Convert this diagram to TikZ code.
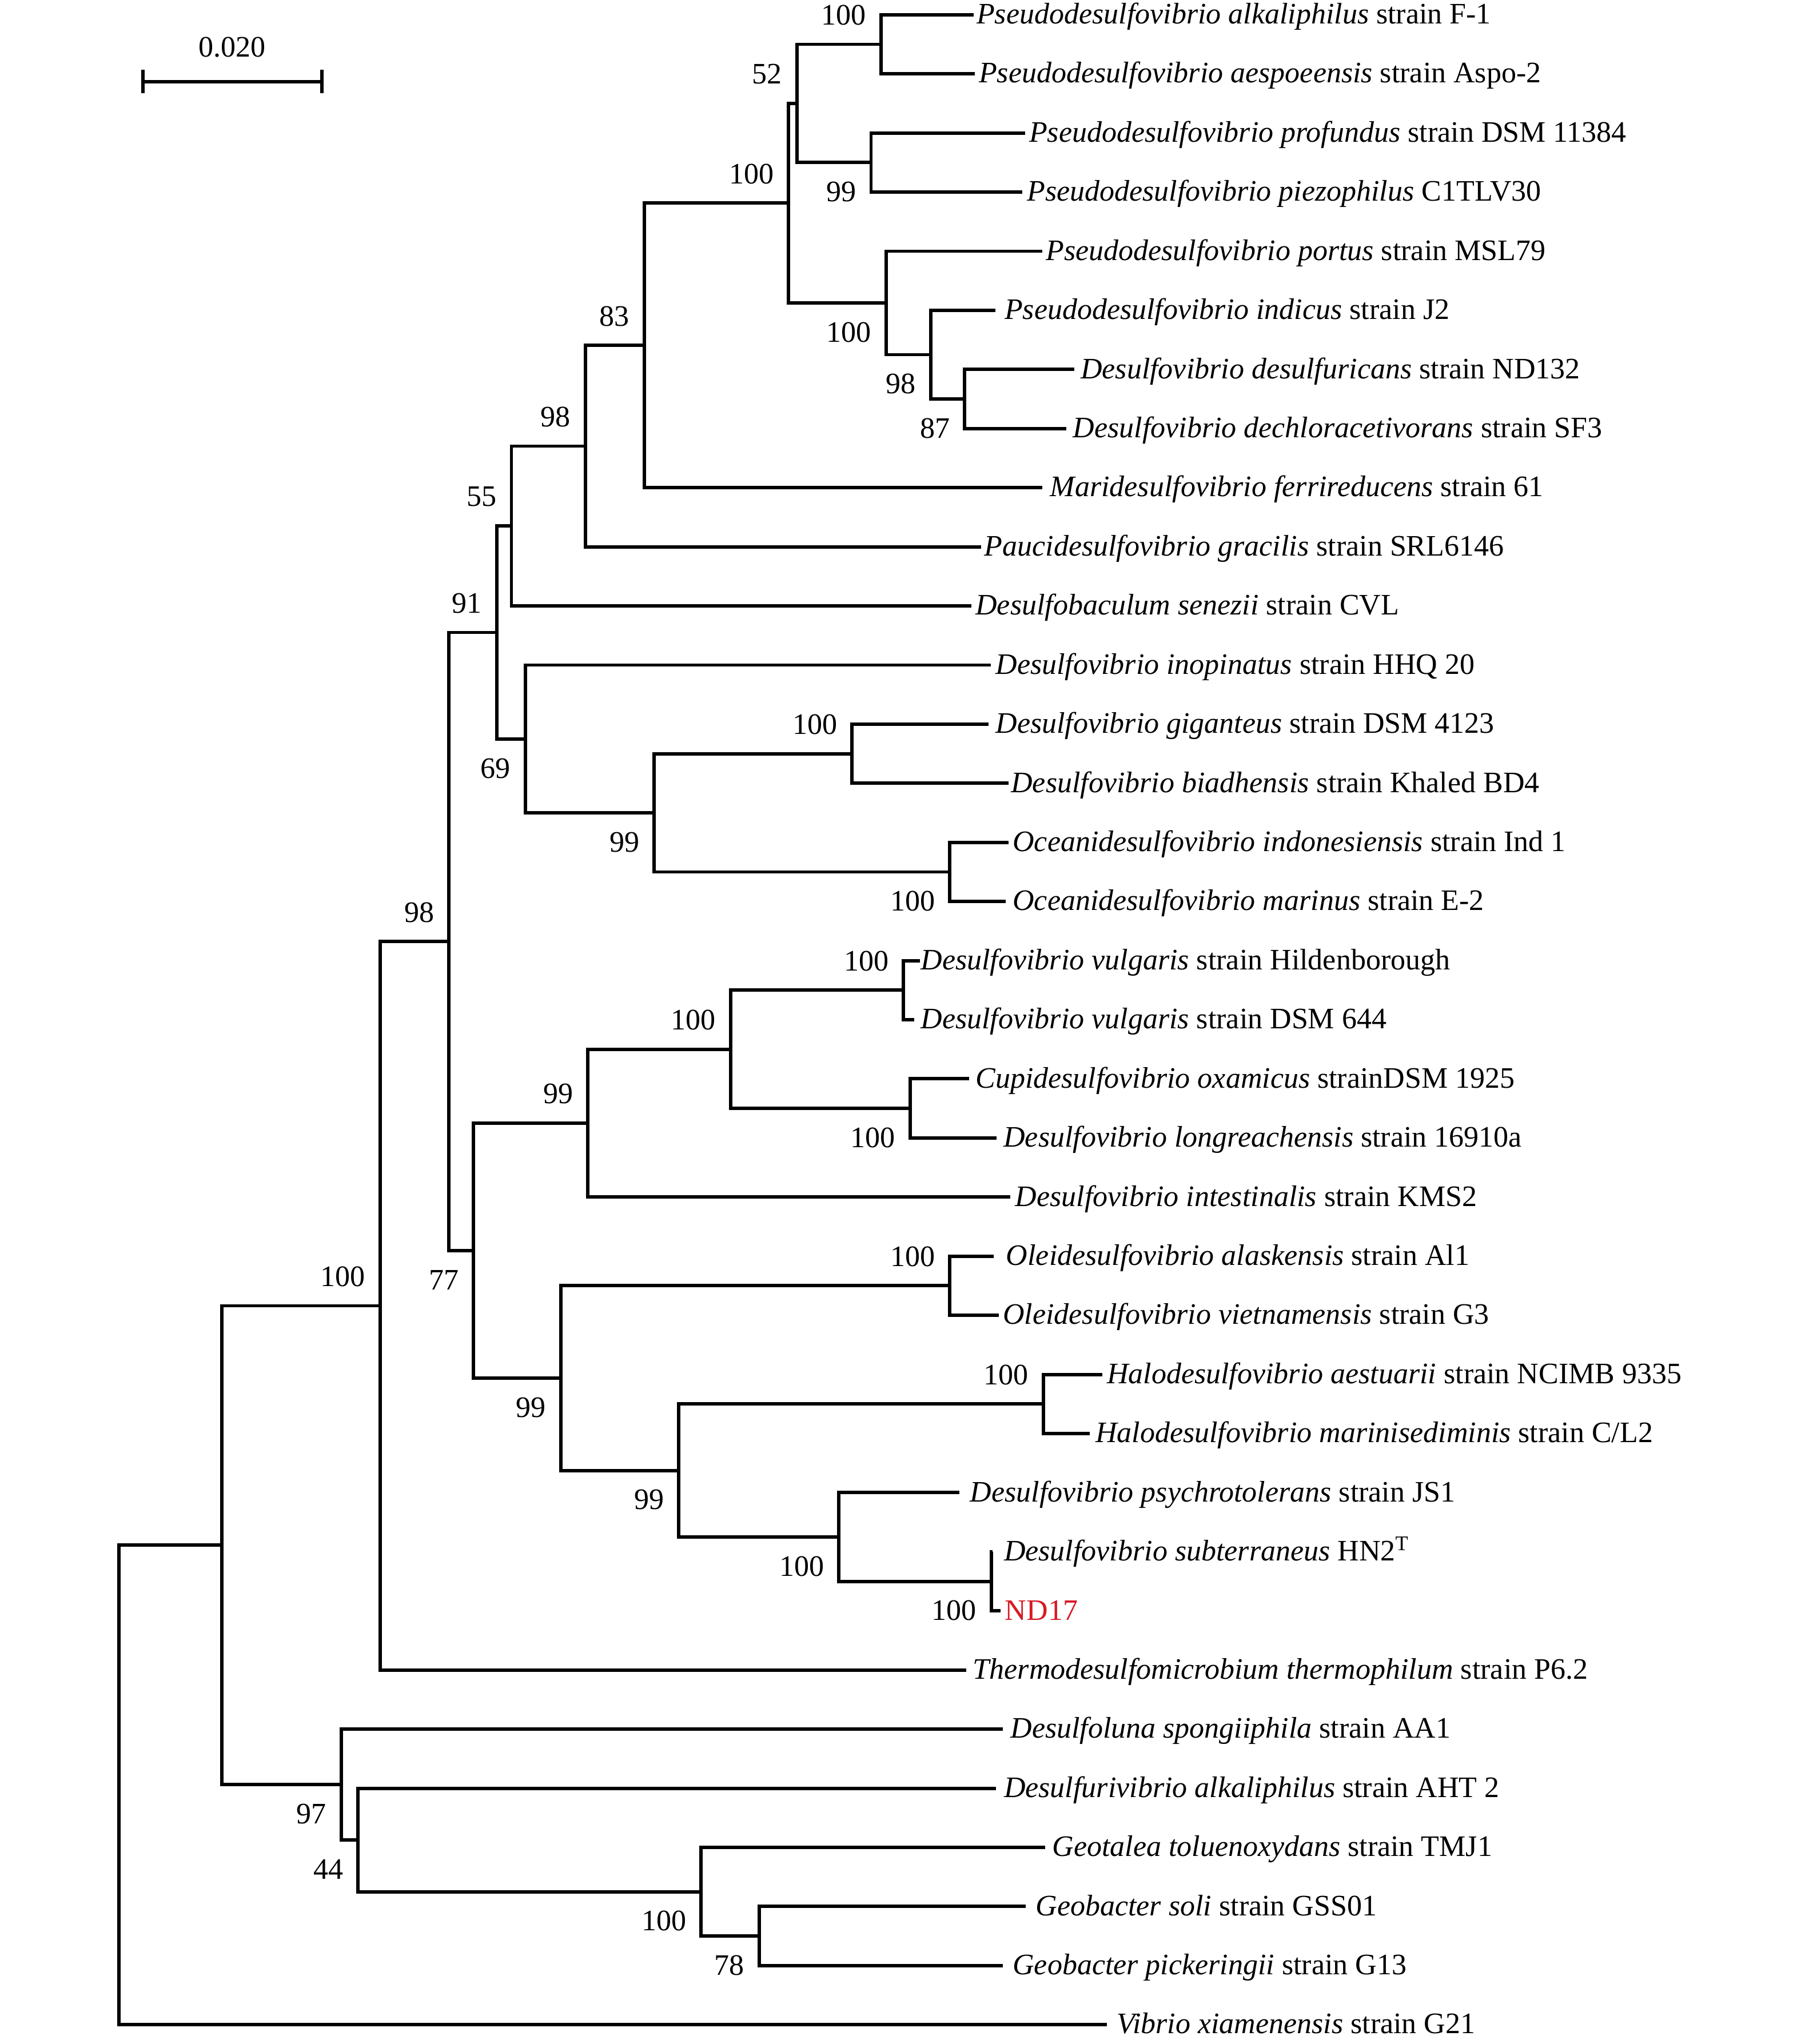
\documentclass[tikz,border=0pt]{standalone}
\usepackage{fontspec}
\setmainfont{Liberation Serif}
\definecolor{NDred}{RGB}{215,25,35}
\def\Fsize{11.4}

\begin{document}
\begin{tikzpicture}[x=0.5pt,y=-0.5pt,
    branch/.style={line width=1.3pt},
    taxon/.style={anchor=west,inner xsep=1pt,inner ysep=0pt,text height=1.5ex,text depth=0pt,font=\fontsize{\Fsize}{13}\selectfont},
    bsup/.style={anchor=east,inner sep=0pt,xshift=-5.5pt,yshift=11.25pt,font=\fontsize{\Fsize}{13}\selectfont},
    bsdown/.style={bsup,yshift=-22.5pt}]
    \path[use as bounding box] (0,0) rectangle (1381,1568);
    % leaf rows
    \foreach \i in {1,...,35} {\coordinate (Y\i) at (0,{11.3+(\i-1)*45.35});}
    \node[taxon] (Palk) at (746.6,0 |- Y1) {\textit{Pseudodesulfovibrio alkaliphilus} strain F-1};
    \node[taxon,inner xsep=1.4pt] (Paes) at (747.5,0 |- Y2) {\textit{Pseudodesulfovibrio aespoeensis} strain Aspo-2};
    \node[taxon,inner xsep=1.45pt] (Ppro) at (786,0 |- Y3) {\textit{Pseudodesulfovibrio profundus} strain DSM 11384};
    \node[taxon,inner xsep=1.7pt] (Ppie) at (783.8,0 |- Y4) {\textit{Pseudodesulfovibrio piezophilus} C1TLV30};
    \node[taxon,inner xsep=1.2pt] (Ppor) at (799.4,0 |- Y5) {\textit{Pseudodesulfovibrio portus} strain MSL79};
    \node[taxon,inner xsep=3.35pt] (Pind) at (763.3,0 |- Y6) {\textit{Pseudodesulfovibrio indicus} strain J2};
    \node[taxon,inner xsep=2.35pt] (Ddes) at (823.7,0 |- Y7) {\textit{Desulfovibrio desulfuricans} strain ND132};
    \node[taxon,inner xsep=2.35pt] (Ddec) at (817.8,0 |- Y8) {\textit{Desulfovibrio dechloracetivorans} strain SF3};
    \node[taxon,inner xsep=2.8pt] (Mfer) at (799.4,0 |- Y9) {\textit{Maridesulfovibrio ferrireducens} strain 61};
    \node[taxon,inner xsep=1.15pt] (Pgra) at (752.3,0 |- Y10) {\textit{Paucidesulfovibrio gracilis} strain SRL6146};
    \node[taxon,inner xsep=1.45pt] (Dsen) at (744.9,0 |- Y11) {\textit{Desulfobaculum senezii} strain CVL};
    \node[taxon,inner xsep=1.6pt] (Dino) at (760,0 |- Y12) {\textit{Desulfovibrio inopinatus} strain HHQ 20};
    \node[taxon,inner xsep=2.45pt] (Dgig) at (758.3,0 |- Y13) {\textit{Desulfovibrio giganteus} strain DSM 4123};
    \node[taxon,inner xsep=0.8pt] (Dbia) at (773.4,0 |- Y14) {\textit{Desulfovibrio biadhensis} strain Khaled BD4};
    \node[taxon,inner xsep=1.45pt] (Oind) at (773.4,0 |- Y15) {\textit{Oceanidesulfovibrio indonesiensis} strain Ind 1};
    \node[taxon,inner xsep=2.45pt] (Omar) at (771.4,0 |- Y16) {\textit{Oceanidesulfovibrio marinus} strain E-2};
    \node[taxon,inner xsep=0.2pt] (DvulH) at (705.4,0 |- Y17) {\textit{Desulfovibrio vulgaris} strain Hildenborough};
    \node[taxon,inner xsep=2.3pt] (DvulD) at (701.2,0 |- Y18) {\textit{Desulfovibrio vulgaris} strain DSM 644};
    \node[taxon,inner xsep=2.3pt] (Coxa) at (743.2,0 |- Y19) {\textit{Cupidesulfovibrio oxamicus} strainDSM 1925};
    \node[taxon,inner xsep=2.55pt] (Dlon) at (764.2,0 |- Y20) {\textit{Desulfovibrio longreachensis} strain 16910a};
    \node[taxon,inner xsep=1.65pt] (Dint) at (775,0 |- Y21) {\textit{Desulfovibrio intestinalis} strain KMS2};
    \node[taxon,inner xsep=4.65pt] (Oala) at (762,0 |- Y22) {\textit{Oleidesulfovibrio alaskensis} strain Al1};
    \node[taxon,inner xsep=1.5pt] (Ovie) at (765.8,0 |- Y23) {\textit{Oleidesulfovibrio vietnamensis} strain G3};
    \node[taxon,inner xsep=1.65pt] (Haes) at (845.2,0 |- Y24) {\textit{Halodesulfovibrio aestuarii} strain NCIMB 9335};
    \node[taxon,inner xsep=2pt] (Hmar) at (835.8,0 |- Y25) {\textit{Halodesulfovibrio marinisediminis} strain C/L2};
    \node[taxon,inner xsep=4pt] (Dpsy) at (735.6,0 |- Y26) {\textit{Desulfovibrio psychrotolerans} strain JS1};
    \node[taxon,inner xsep=4.3pt] (Dsub) at (761,0 |- Y27) {\textit{Desulfovibrio subterraneus} HN2\textsuperscript{T}};
    \node[taxon,inner xsep=1.45pt,text=NDred] (ND17) at (767.5,0 |- Y28) {ND17};
    \node[taxon,inner xsep=2.4pt] (Tthe) at (741,0 |- Y29) {\textit{Thermodesulfomicrobium thermophilum} strain P6.2};
    \node[taxon,inner xsep=2.7pt] (Dspo) at (769.2,0 |- Y30) {\textit{Desulfoluna spongiiphila} strain AA1};
    \node[taxon,inner xsep=2.95pt] (Dalk) at (763.7,0 |- Y31) {\textit{Desulfurivibrio alkaliphilus} strain AHT 2};
    \node[taxon,inner xsep=2.5pt] (Gtol) at (801.6,0 |- Y32) {\textit{Geotalea toluenoxydans} strain TMJ1};
    \node[taxon,inner xsep=3.75pt] (Gsol) at (786.5,0 |- Y33) {\textit{Geobacter soli} strain GSS01};
    \node[taxon,inner xsep=3.55pt] (Gpic) at (769.2,0 |- Y34) {\textit{Geobacter pickeringii} strain G13};
    \node[taxon,inner xsep=3.55pt] (Vxia) at (848.9,0 |- Y35) {\textit{Vibrio xiamenensis} strain G21};
    % internal nodes
    \coordinate (c12) at (675.5,33.98);
    \coordinate (c34) at (668,124.68);
    \coordinate (c1234) at (611.2,79.33);
    \coordinate (c78) at (739.8,306.08);
    \coordinate (c678) at (713.8,272.06);
    \coordinate (c5678) at (679.5,232.38);
    \coordinate (c1to8) at (604.8,155.86);
    \coordinate (c1to9) at (494.1,264.98);
    \coordinate (c1to10) at (448.9,342.22);
    \coordinate (c1to11) at (392.2,403.51);
    \coordinate (c1314) at (653.4,578.18);
    \coordinate (c1516) at (728.4,668.88);
    \coordinate (c13to16) at (501.7,623.53);
    \coordinate (c12to16) at (402.8,566.84);
    \coordinate (c1to16) at (380.9,485.18);
    \coordinate (c1718) at (692.8,759.58);
    \coordinate (c1920) at (697.9,850.28);
    \coordinate (c17to20) at (560.2,804.93);
    \coordinate (c17to21) at (450.8,861.62);
    \coordinate (c2223) at (728.4,986.33);
    \coordinate (c2425) at (800.2,1077.03);
    \coordinate (c2728) at (760.3,1213.08);
    \coordinate (c26to28) at (643.3,1179.07);
    \coordinate (c24to28) at (520.6,1128.05);
    \coordinate (c22to28) at (430,1057.19);
    \coordinate (c17to28) at (363.2,959.41);
    \coordinate (c1to28) at (344.3,722.3);
    \coordinate (c1to29) at (291.5,1001.7);
    \coordinate (c3334) at (582.1,1485.18);
    \coordinate (c32to34) at (537.6,1451.17);
    \coordinate (c31to34) at (274.5,1411.49);
    \coordinate (c30to34) at (261.6,1368.97);
    \coordinate (c1to34) at (170.3,1185.34);
    \coordinate (root) at (91.1,1369.27);
    % branches
    \foreach \p/\c in {c12/Palk,c12/Paes,c34/Ppro,c34/Ppie,c1234/c12,c1234/c34,
        c78/Ddes,c78/Ddec,c678/Pind,c678/c78,c5678/Ppor,c5678/c678,c1to8/c1234,c1to8/c5678,
        c1to9/c1to8,c1to9/Mfer,c1to10/c1to9,c1to10/Pgra,c1to11/c1to10,c1to11/Dsen,
        c1314/Dgig,c1314/Dbia,c1516/Oind,c1516/Omar,c13to16/c1314,c13to16/c1516,
        c12to16/Dino,c12to16/c13to16,c1to16/c1to11,c1to16/c12to16,
        c1718/DvulH,c1718/DvulD,c1920/Coxa,c1920/Dlon,c17to20/c1718,c17to20/c1920,
        c17to21/c17to20,c17to21/Dint,c2223/Oala,c2223/Ovie,c2425/Haes,c2425/Hmar,
        c2728/Dsub,c2728/ND17,c26to28/Dpsy,c26to28/c2728,c24to28/c2425,c24to28/c26to28,
        c22to28/c2223,c22to28/c24to28,c17to28/c17to21,c17to28/c22to28,
        c1to28/c1to16,c1to28/c17to28,c1to29/c1to28,c1to29/Tthe,
        c3334/Gsol,c3334/Gpic,c32to34/Gtol,c32to34/c3334,c31to34/Dalk,c31to34/c32to34,
        c30to34/Dspo,c30to34/c31to34,c1to34/c1to29,c1to34/c30to34,root/c1to34,root/Vxia}
        {\draw[branch] (\p) |- (\c);}
    % bootstrap values
    \foreach \c/\v/\s in {c12/100/bsup,c34/99/bsdown,c1234/52/bsup,c78/87/bsdown,c678/98/bsdown,
        c5678/100/bsdown,c1to8/100/bsup,c1to9/83/bsup,c1to10/98/bsup,c1to11/55/bsup,
        c1314/100/bsup,c1516/100/bsdown,c13to16/99/bsdown,c12to16/69/bsdown,c1to16/91/bsup,
        c1718/100/bsup,c1920/100/bsdown,c17to20/100/bsup,c17to21/99/bsup,c2223/100/bsup,
        c2425/100/bsup,c2728/100/bsdown,c26to28/100/bsdown,c24to28/99/bsdown,c22to28/99/bsdown,
        c17to28/77/bsdown,c1to28/98/bsup,c1to29/100/bsup,c3334/78/bsdown,c32to34/100/bsdown,
        c31to34/44/bsdown,c30to34/97/bsdown}
        {\node[\s] (b\c) at (\c) {\v};}
    % scale bar
    \coordinate (sbL) at (109.6,62.6);
    \coordinate (sbR) at (246.8,62.6);
    \draw[branch] (sbL) -- (sbR);
    \draw[branch] ([yshift=4.5pt]sbL) -- ([yshift=-4.5pt]sbL);
    \draw[branch] ([yshift=4.5pt]sbR) -- ([yshift=-4.5pt]sbR);
    \node[font=\fontsize{\Fsize}{13}\selectfont,inner sep=0pt] (sblab) at (178,36) {0.020};
\end{tikzpicture}
\end{document}
